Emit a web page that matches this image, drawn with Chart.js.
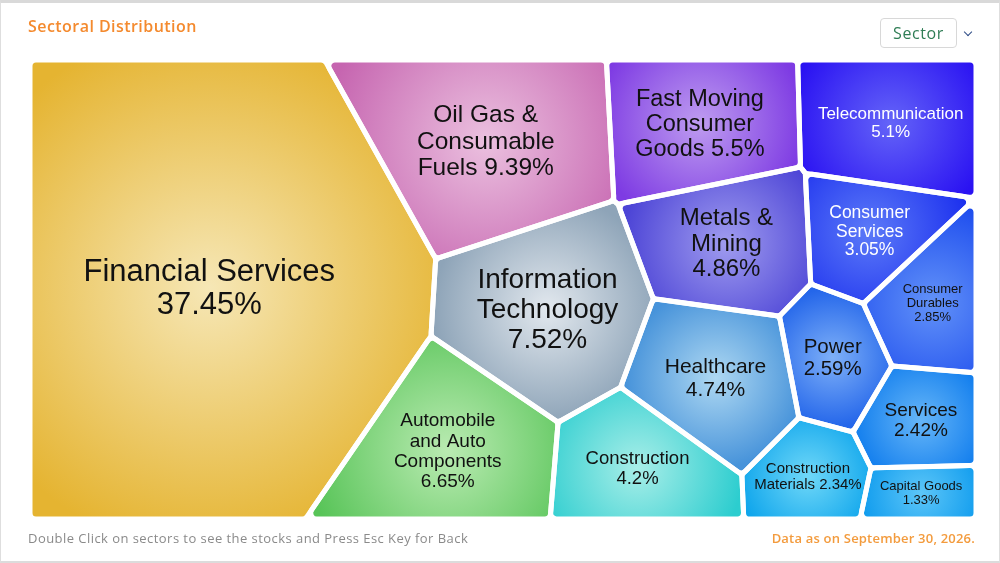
<!DOCTYPE html>
<html>
<head>
<meta charset="utf-8">
<script src="https://cdn.jsdelivr.net/npm/chart.js@4.4.0/dist/chart.umd.min.js"></script>
<style>
  html, body { margin: 0; padding: 0; background: #ffffff; }
  body { width: 1000px; height: 563px; position: relative; overflow: hidden; font-family: "Open Sans", "Liberation Sans", sans-serif; }
  #chart { position: absolute; left: 0; top: 0; }
  #frame { position: absolute; left: 0; top: 0; width: 1000px; height: 563px; box-sizing: border-box;
           border: 1px solid #dedede; border-top: 3px solid #d9d9d9; border-bottom: 2px solid #dcdcdc; pointer-events: none; }
  #title { position: absolute; left: 28px; top: 14px; font-size: 16px; line-height: 24px; font-weight: 600; color: #F48A2E; letter-spacing: 0.45px; }
  #sel { position: absolute; left: 880px; top: 18px; width: 77px; height: 30px; box-sizing: border-box; border: 1px solid #d8d8d8;
         border-radius: 4px; font-size: 16px; line-height: 28px; text-align: center; color: #2F7D55; letter-spacing: 0.6px; }
  #chev { position: absolute; left: 965px; top: 29px; width: 5px; height: 5px; border-right: 1.6px solid #2E4C86;
          border-bottom: 1.6px solid #2E4C86; transform: rotate(45deg); }
  #note { position: absolute; left: 28px; top: 528px; font-size: 13px; line-height: 20px; color: #8a8a8a; letter-spacing: 0.45px; }
  #asof { position: absolute; right: 25px; top: 528px; font-size: 13px; line-height: 20px; color: #F39B3D; font-weight: 600; letter-spacing: 0.2px; }
</style>
</head>
<body>
<canvas id="chart" width="1000" height="563"></canvas>
<div id="frame"></div>
<div id="title">Sectoral Distribution</div>
<div id="sel">Sector</div>
<div id="chev"></div>
<div id="note">Double Click on sectors to see the stocks and Press Esc Key for Back</div>
<div id="asof">Data as on September 30, 2026.</div>
<script>
// ---------------- DATA ----------------
const categories = [
  "Financial Services", "Oil Gas & Consumable Fuels", "Fast Moving Consumer Goods", "Telecommunication",
  "Information Technology", "Metals & Mining", "Consumer Services", "Consumer Durables", "Power",
  "Healthcare", "Services", "Automobile and Auto Components", "Construction", "Construction Materials", "Capital Goods"
];
const values = [37.45, 9.39, 5.5, 5.1, 7.52, 4.86, 3.05, 2.85, 2.59, 4.74, 2.42, 6.65, 4.2, 2.34, 1.33];
const labelLines = [
  ["Financial Services", "37.45%"],
  ["Oil Gas &", "Consumable", "Fuels 9.39%"],
  ["Fast Moving", "Consumer", "Goods 5.5%"],
  ["Telecommunication", "5.1%"],
  ["Information", "Technology", "7.52%"],
  ["Metals &", "Mining", "4.86%"],
  ["Consumer", "Services", "3.05%"],
  ["Consumer", "Durables", "2.85%"],
  ["Power", "2.59%"],
  ["Healthcare", "4.74%"],
  ["Services", "2.42%"],
  ["Automobile", "and Auto", "Components", "6.65%"],
  ["Construction", "4.2%"],
  ["Construction", "Materials 2.34%"],
  ["Capital Goods", "1.33%"]
];

// ---------------- STYLE / LAYOUT ----------------
const baseColors = ["#E5B431", "#C665B0", "#7E3BE3", "#2A12F2", "#8EA4B8", "#4C44D6", "#1C30EE", "#1E4DEE",
                    "#2466EA", "#4793DA", "#1580EE", "#58C458", "#2CCDCF", "#10A6EC", "#129DEE"];
const lightColors = ["#F6E7B6", "#EBC0DF", "#BE9CF0", "#6464F8", "#E2E8EE", "#A09CEF", "#5C7AF8", "#6292F8",
                     "#7EB0F8", "#AED8F2", "#66B6F8", "#BAEBB2", "#A8EEE8", "#70D8F8", "#5CC6F8"];
const textColors = ["#111", "#111", "#111", "#fff", "#111", "#111", "#fff", "#111", "#111", "#111", "#111", "#111", "#111", "#111", "#111"];
const fontSizes = [31, 24.5, 23.5, 17, 28, 24, 17.5, 13, 20.5, 21, 19, 19, 18.5, 15, 13];
// site positions for the weighted Voronoi (power diagram) layout
const siteX = [225, 497, 703, 887, 553, 727, 870, 928, 830, 710, 920, 458, 640, 800, 922];
const siteY = [290, 138, 127, 122, 310, 245, 238, 300, 345, 368, 398, 450, 465, 458, 484];
const bounds = { x0: 30, y0: 60, x1: 976, y1: 519 };

// ---------------- Weighted Voronoi (power diagram) treemap ----------------
function clipHalf(poly, a, b, c) {
  const out = [];
  const n = poly.length;
  for (let k = 0; k < n; k++) {
    const P = poly[k], Q = poly[(k + 1) % n];
    const fp = a * P[0] + b * P[1] - c, fq = a * Q[0] + b * Q[1] - c;
    if (fp <= 0) out.push(P);
    if ((fp < 0 && fq > 0) || (fp > 0 && fq < 0)) {
      const t = fp / (fp - fq);
      out.push([P[0] + t * (Q[0] - P[0]), P[1] + t * (Q[1] - P[1])]);
    }
  }
  return out;
}
function powerCells(S, W) {
  const rect = [[bounds.x0, bounds.y0], [bounds.x1, bounds.y0], [bounds.x1, bounds.y1], [bounds.x0, bounds.y1]];
  return S.map((si, i) => {
    let poly = rect.slice();
    for (let j = 0; j < S.length && poly.length; j++) {
      if (j === i) continue;
      const sj = S[j];
      const a = 2 * (sj[0] - si[0]), b = 2 * (sj[1] - si[1]);
      const c = sj[0] * sj[0] + sj[1] * sj[1] - si[0] * si[0] - si[1] * si[1] - W[j] + W[i];
      poly = clipHalf(poly, a, b, c);
    }
    return poly;
  });
}
function areaCentroid(poly) {
  let A = 0, cx = 0, cy = 0;
  for (let k = 0; k < poly.length; k++) {
    const P = poly[k], Q = poly[(k + 1) % poly.length];
    const cr = P[0] * Q[1] - Q[0] * P[1];
    A += cr; cx += (P[0] + Q[0]) * cr; cy += (P[1] + Q[1]) * cr;
  }
  A /= 2;
  if (Math.abs(A) < 1e-9) return { A: 0, c: null };
  return { A: Math.abs(A), c: [cx / (6 * A), cy / (6 * A)] };
}
function layout() {
  const total = values.reduce((s, v) => s + v, 0);
  const boxA = (bounds.x1 - bounds.x0) * (bounds.y1 - bounds.y0);
  const T = values.map(v => v / total * boxA);
  const S = siteX.map((x, i) => [x, siteY[i]]);
  const W = values.map(() => 0);
  for (let it = 0; it < 1500; it++) {
    const ac = powerCells(S, W).map(areaCentroid);
    ac.forEach((r, i) => { W[i] += 0.4 * (T[i] - r.A); });
    for (let i = 0; i < S.length; i++) for (let j = 0; j < S.length; j++) {
      if (i === j) continue;
      const dx = S[i][0] - S[j][0], dy = S[i][1] - S[j][1];
      const d2 = dx * dx + dy * dy;
      if (W[i] - W[j] > d2 * 0.98) W[i] = W[j] + d2 * 0.98;
    }
  }
  return powerCells(S, W).map(p => {
    const clean = [];
    p.forEach(q => {
      const last = clean[clean.length - 1];
      if (!last || Math.hypot(q[0] - last[0], q[1] - last[1]) > 0.6) clean.push(q);
    });
    if (clean.length > 2 && Math.hypot(clean[0][0] - clean[clean.length - 1][0], clean[0][1] - clean[clean.length - 1][1]) < 0.6) clean.pop();
    return { poly: clean, c: areaCentroid(clean).c };
  });
}
const cells = layout();

// ---------------- Chart ----------------
function roundedPath(ctx, pts, r) {
  const n = pts.length;
  const m0 = [(pts[n - 1][0] + pts[0][0]) / 2, (pts[n - 1][1] + pts[0][1]) / 2];
  ctx.beginPath();
  ctx.moveTo(m0[0], m0[1]);
  for (let k = 0; k < n; k++) {
    const P = pts[k], N = pts[(k + 1) % n], Pr = pts[(k - 1 + n) % n];
    const l1 = Math.hypot(P[0] - Pr[0], P[1] - Pr[1]), l2 = Math.hypot(N[0] - P[0], N[1] - P[1]);
    const rr = Math.min(r, l1 * 0.45, l2 * 0.45);
    ctx.arcTo(P[0], P[1], N[0], N[1], rr);
  }
  ctx.closePath();
}

const voronoiPlugin = {
  id: 'voronoiCells',
  afterDatasetsDraw(chart) {
    const ctx = chart.ctx, xs = chart.scales.x, ys = chart.scales.y;
    const toPx = p => [xs.getPixelForValue(p[0]), ys.getPixelForValue(p[1])];
    ctx.save();
    const pxCells = cells.map(c => ({ poly: c.poly.map(toPx), c: toPx(c.c) }));
    pxCells.forEach((c, i) => {
      const rad = Math.max(...c.poly.map(p => Math.hypot(p[0] - c.c[0], p[1] - c.c[1]))) * 0.9;
      const g = ctx.createRadialGradient(c.c[0], c.c[1], 0, c.c[0], c.c[1], rad);
      g.addColorStop(0, lightColors[i]);
      g.addColorStop(1, baseColors[i]);
      roundedPath(ctx, c.poly, 6);
      ctx.fillStyle = g;
      ctx.fill();
    });
    ctx.strokeStyle = '#ffffff';
    ctx.lineWidth = 5;
    ctx.lineJoin = 'round';
    pxCells.forEach(c => { roundedPath(ctx, c.poly, 6); ctx.stroke(); });
    ctx.textAlign = 'center';
    ctx.textBaseline = 'middle';
    pxCells.forEach((c, i) => {
      const fs = fontSizes[i], lh = fs * 1.07, lines = labelLines[i];
      ctx.font = fs + 'px "Liberation Sans", Arial, sans-serif';
      ctx.fillStyle = textColors[i];
      lines.forEach((t, k) => ctx.fillText(t, c.c[0], c.c[1] + (k - (lines.length - 1) / 2) * lh + fs * 0.04));
    });
    ctx.restore();
  }
};

new Chart(document.getElementById('chart'), {
  type: 'scatter',
  data: {
    datasets: [{
      label: 'Sectors',
      data: cells.map((c, i) => ({ x: c.c[0], y: c.c[1], v: values[i], name: categories[i] })),
      pointRadius: 0,
      pointHoverRadius: 0
    }]
  },
  options: {
    responsive: false,
    animation: false,
    devicePixelRatio: 1,
    layout: { padding: 0 },
    plugins: { legend: { display: false }, tooltip: { enabled: false }, title: { display: false } },
    scales: {
      x: { type: 'linear', min: 0, max: 1000, display: false },
      y: { type: 'linear', min: 0, max: 563, reverse: true, display: false }
    }
  },
  plugins: [voronoiPlugin]
});
</script>
</body>
</html>
